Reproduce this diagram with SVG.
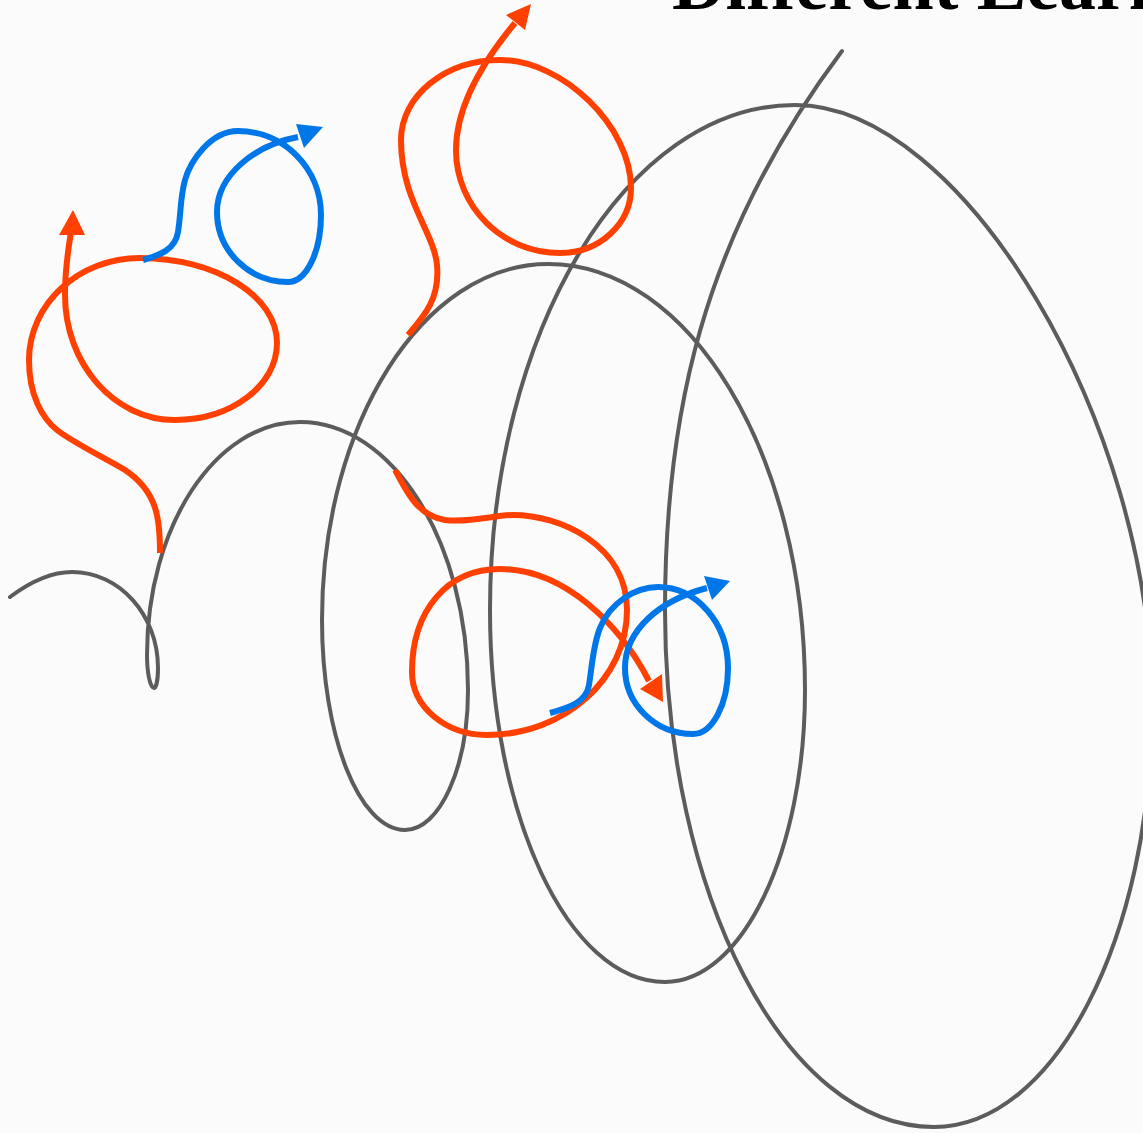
<svg xmlns="http://www.w3.org/2000/svg" width="1143" height="1133" viewBox="0 0 1143 1133">
<style>
.spiral{fill:none;stroke:#5c5c5c;stroke-width:4;stroke-linejoin:round;stroke-linecap:round}
.red{fill:none;stroke:#ff4000;stroke-width:6;stroke-linejoin:round;stroke-linecap:butt}
.blue{fill:none;stroke:#0077e8;stroke-width:6;stroke-linejoin:round;stroke-linecap:butt}
.redhead{fill:#ff4000}
.bluehead{fill:#0077e8}
.title{font-family:"Liberation Serif","Times New Roman",serif;font-weight:bold;font-size:74px;fill:#000}
</style>
<rect width="1143" height="1133" fill="#fbfbfb"/>
<g id="title"><text class="title" x="672" y="9">Different Learn</text></g>
<g id="spiral">
<path class="spiral" d="M10,597 C30,582 50,572 72,572 C119.5,572 158,615 158,668 C158,680 156,688 154,688 C150,688 147,672 147,655 C147,526.4 215.5,422 300,422 C392.7,422 468,542 468,690 C468,767.3 439.8,830 405,830 C359.2,830 322,735.9 322,620 C322,423.5 423.2,264 548,264 C689.9,264 805,454.8 805,690 C805,851.2 742.3,982 665,982 C568.4,982 490,815.3 490,610 C490,331.2 626.6,105 795,105 C962.8,105 1152,423 1152,705 C1152,938 1054.3,1127 934,1127 C785.5,1127 665,895.4 665,610 C665,420 700,240 842,51"/>
</g>
<g id="connectors">
<g id="red-path-1">
<path class="red" d="M160,553 C160,520 158,492 125,470 C105,458 72,442 57,430 C42,418 29,395 29,360 C29,304 78.7,258 140,258 C215.6,258 277,296 277,343 C277,385.5 231.3,420 175,420 C114.3,420 65,364 65,295 C65,270 68,250 71,232"/>
<polygon class="redhead" points="73,210 59,235 85,235"/>
</g>
<g id="blue-path-1">
<path class="blue" d="M143,260 C160,255 175,250 178,232 C181,214 180,198 185,180 C190,162 210,131 238,131 C283.8,131 321,168.6 321,215 C321,252 306.2,282 288,282 C248.8,282 217,250.6 217,212 C217,175 255,145 298,137"/>
<polygon class="bluehead" points="323,127 296,124 304,148"/>
</g>
<g id="red-path-2">
<path class="red" d="M408,335 C425,315 440,298 437,265 C434,232 401,200 401,140 C401,95.8 445.4,60 500,60 C562.9,60 631,126.6 631,188 C631,223.9 599.2,253 560,253 C502.6,253 456,206.9 456,150 C456,110 480,65 515,23"/>
<polygon class="redhead" points="531,4 506,15 525,30"/>
</g>
<g id="red-path-3">
<path class="red" d="M395,470 C405,487 415,515 445,520 C470,523 495,515 513,515 C560,515 627,545 627,610 C627,679 564.3,735 487,735 C445.6,735 412,706.8 412,672 C412,610.2 447.2,569 500,569 C565,569 620,625 649,681"/>
<polygon class="redhead" points="663,702 640,689 662,674"/>
</g>
<g id="blue-path-2">
<path class="blue" d="M550,713 C568,708 586,703 589,685 C592,667 593,645 600,628 C610,603 635,587 658,587 C696.6,587 728,623.3 728,668 C728,704.4 712.3,734 693,734 C655.5,734 625,704.4 625,668 C625,630 660,600 707,588"/>
<polygon class="bluehead" points="730,581 704,576 712,600"/>
</g>
</g>
</svg>
